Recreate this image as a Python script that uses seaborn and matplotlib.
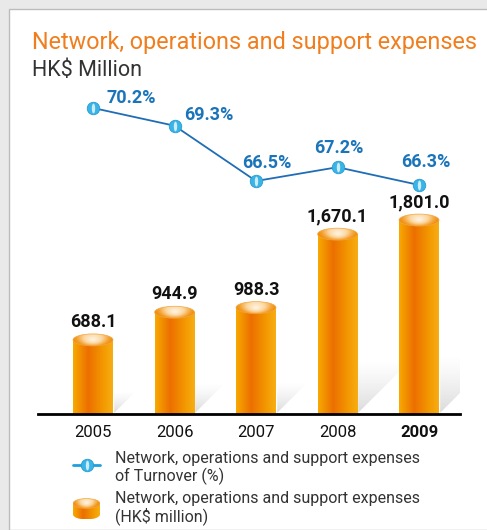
import numpy as np
import pandas as pd
import matplotlib
matplotlib.use("Agg")
import matplotlib.pyplot as plt
import seaborn as sns
from matplotlib.colors import LinearSegmentedColormap
from matplotlib.patches import Ellipse, Polygon, Rectangle
from matplotlib.lines import Line2D

# data
years = ["2005", "2006", "2007", "2008", "2009"]
expenses = [688.1, 944.9, 988.3, 1670.1, 1801.0]          # HK$ million
turnover_pct = [70.2, 69.3, 66.5, 67.2, 66.3]              # % of turnover

# label offsets for the % labels (pixels, right / up)
pct_offsets = [(13, 10), (10, 11), (-14, 18), (-23, 19), (-18, 23)]

sns.set_style("white")
plt.rcParams["font.family"] = ["Roboto", "DejaVu Sans"]

W, H = 487, 530
fig = plt.figure(figsize=(W / 100, H / 100), dpi=100)
fig.patch.set_facecolor("#e9e9e9")


def fx(x):
    return x / W


def fy(y):
    return 1 - y / H


# white card with thin grey border
fig.add_artist(Rectangle((fx(9), 0), 1, fy(9), transform=fig.transFigure,
                         facecolor="white", edgecolor="#bcbcbc", lw=1, zorder=0))

body_cmap = LinearSegmentedColormap.from_list(
    "body", [(0, "#F7AA00"), (0.38, "#EC6F00"), (0.75, "#F39800"), (1, "#F7AE15")])
top_cmap = LinearSegmentedColormap.from_list(
    "top", [(0, "#FFF6E8"), (0.45, "#FBD7A0"), (0.8, "#F4A232"), (1, "#F09010")])
grad = np.linspace(0, 1, 256)[None, :]


def draw_cylinder(ax, x0, w, h, ell_h, base=0.0, bottom_cap=False):
    body = Rectangle((x0, base), w, h - base, facecolor="none", edgecolor="none")
    ax.add_patch(body)
    im = ax.imshow(grad, extent=(x0, x0 + w, base, h), cmap=body_cmap,
                   aspect="auto", zorder=2, interpolation="bicubic")
    im.set_clip_path(body)
    if bottom_cap:
        bot = Ellipse((x0 + w / 2, base), w, ell_h, facecolor="none", edgecolor="none")
        ax.add_patch(bot)
        imb = ax.imshow(grad, extent=(x0, x0 + w, base - ell_h / 2, base),
                        cmap=body_cmap, aspect="auto", zorder=2)
        imb.set_clip_path(bot)
    top = Ellipse((x0 + w / 2, h), w, ell_h, facecolor="none",
                  edgecolor="#F4A540", lw=0.5, zorder=4)
    ax.add_patch(top)
    yy = np.linspace(-1, 1, 64)[:, None]
    xx = np.linspace(-1, 1, 128)[None, :]
    tg = np.clip(np.sqrt((xx * 1.05) ** 2 + (yy * 0.6) ** 2) - yy * 0.2, 0, 1)
    imt = ax.imshow(tg, extent=(x0, x0 + w, h - ell_h / 2, h + ell_h / 2),
                    cmap=top_cmap, vmin=0, vmax=1, aspect="auto", zorder=3,
                    interpolation="bicubic", origin="lower")
    imt.set_clip_path(top)


# main axes: bars
ax = fig.add_axes([fx(38), 1 - 414 / H, 422 / W, 324 / H])
ax.set_facecolor("none")
df = pd.DataFrame({"year": years, "expense": expenses})
sns.barplot(data=df, x="year", y="expense", ax=ax, width=0.49,
            color="#F08300", saturation=1, zorder=2)

ymax = 3009
ax.set_xlim(-0.675, 4.503)
ax.set_ylim(0, ymax)
px_y = ymax / 324          # data units per pixel (y)
px_x = 1 / 81.5            # data units per pixel (x)

shadow_rgba = np.zeros((64, 2, 4))
shadow_rgba[..., :3] = 0.75
shadow_rgba[..., 3] = np.linspace(0, 0.65, 64)[:, None] ** 1.3

for p, val in zip(list(ax.patches), expenses):
    x0, w, h = p.get_x(), p.get_width(), p.get_height()
    p.set_facecolor("none")
    # soft shadow wedge to the right of the bar
    hs = 0.3 * h
    dx = hs / px_y * px_x
    poly = Polygon([(x0 + w, 0), (x0 + w, hs), (x0 + w + dx, hs)], closed=True,
                   facecolor="none", edgecolor="none")
    ax.add_patch(poly)
    ims = ax.imshow(shadow_rgba, extent=(x0 + w, x0 + w + dx, 0, hs),
                    aspect="auto", zorder=1)
    ims.set_clip_path(poly)
    draw_cylinder(ax, x0, w, h, 12 * px_y)
    ax.annotate(f"{val:,.1f}", xy=(x0 + w / 2, h), xytext=(0, 18 * 0.72),
                textcoords="offset points", ha="center", va="center",
                fontsize=13, fontweight="bold", color="#111111", zorder=5)

ax.set_xlim(-0.675, 4.503)
ax.set_ylim(0, ymax)
ax.set_xlabel("")
ax.set_ylabel("")
ax.set_yticks([])
for s in ["top", "left", "right"]:
    ax.spines[s].set_visible(False)
ax.spines["bottom"].set_color("black")
ax.spines["bottom"].set_linewidth(2)
ax.spines["bottom"].set_zorder(6)
ax.tick_params(axis="x", length=0, pad=8, labelsize=12, labelcolor="#111111")
ax.get_xticklabels()[-1].set_fontweight("bold")

# line: % of turnover
ax2 = ax.twinx()
xs = list(range(len(years)))
sns.lineplot(x=xs, y=turnover_pct, ax=ax2, color="#1F6DB5", lw=1.3,
             marker="o", markersize=9, markerfacecolor="#38B4E6",
             markeredgecolor="#2A9BD3", markeredgewidth=0.6, zorder=6)
theta = np.linspace(0, 2 * np.pi, 30)
hl = list(zip(0.35 * np.cos(theta), np.sin(theta)))
ax2.plot(xs, turnover_pct, ls="none", marker=hl, markersize=7,
         markerfacecolor="white", markeredgecolor="none", alpha=0.75, zorder=7)
ax2.set_ylim(54.70, 71.11)
ax2.set_xlim(-0.675, 4.503)
ax2.set_yticks([])
ax2.set_ylabel("")
for s in ax2.spines.values():
    s.set_visible(False)
for i, (v, (dx, dy)) in enumerate(zip(turnover_pct, pct_offsets)):
    ax2.annotate(f"{v:.1f}%", xy=(i, v), xytext=(dx * 0.72, dy * 0.72),
                 textcoords="offset points", ha="left", va="center",
                 fontsize=13, fontweight="bold", color="#1A74BA")

# titles
fig.text(fx(32), fy(42), "Network, operations and support expenses",
         fontsize=16.8, color="#F07E1E", va="center", ha="left")
fig.text(fx(32), fy(71), "HK$ Million", fontsize=15.5, color="#333333",
         va="center", ha="left")

# legend
fig.add_artist(Line2D([fx(73), fx(100)], [fy(465), fy(465)],
                      transform=fig.transFigure, color="#1EA0DC", lw=2))
fig.add_artist(Line2D([fx(87)], [fy(465)], transform=fig.transFigure,
                      marker="o", markersize=9, markerfacecolor="#38B4E6",
                      markeredgecolor="#2A9BD3", markeredgewidth=0.6))
fig.add_artist(Line2D([fx(87)], [fy(465)], transform=fig.transFigure,
                      marker=hl, markersize=7, markerfacecolor="white",
                      markeredgecolor="none", alpha=0.75))
fig.text(fx(115), fy(459), "Network, operations and support expenses",
         fontsize=11.5, color="#333333", va="center")
fig.text(fx(115), fy(476), "of Turnover (%)", fontsize=11.5, color="#333333",
         va="center")
fig.text(fx(115), fy(499), "Network, operations and support expenses",
         fontsize=11.5, color="#333333", va="center")
fig.text(fx(115), fy(516), "(HK$ million)", fontsize=11.5, color="#333333",
         va="center")

icon = fig.add_axes([fx(73), fy(520), 27 / W, 22 / H])
icon.set_xlim(0, 1)
icon.set_ylim(0, 1)
draw_cylinder(icon, 0, 1, 0.75, 0.45, base=0.25, bottom_cap=True)
icon.set_xlim(0, 1)
icon.set_ylim(0, 1)
icon.axis("off")

fig.savefig("out.png", dpi=100, facecolor=fig.get_facecolor())
